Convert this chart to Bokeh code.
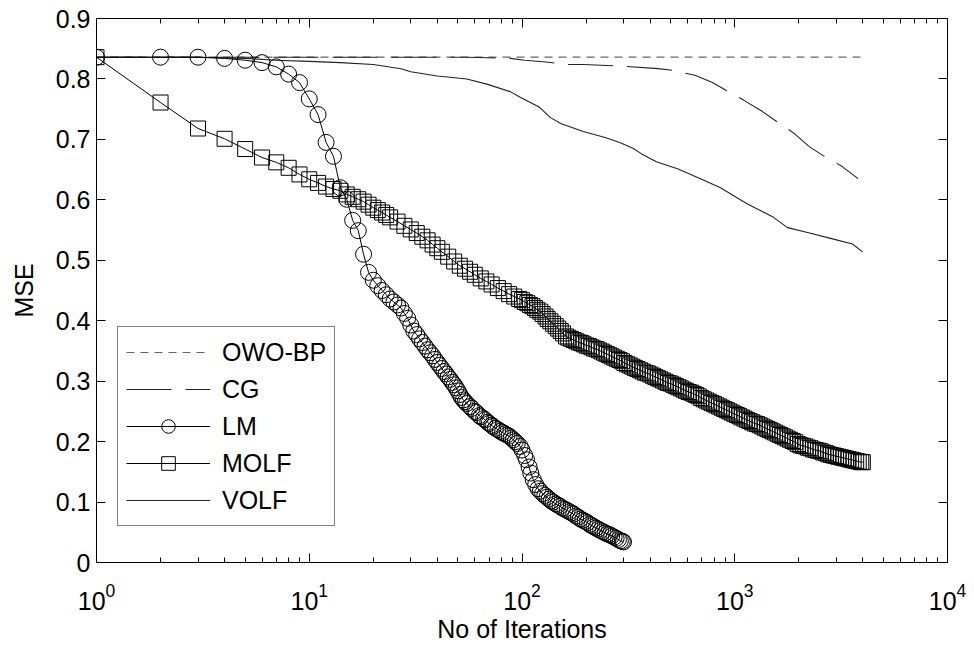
from bokeh.plotting import figure
from bokeh.models import (FixedTicker, LogAxis, LinearAxis, Legend, LegendItem,
                          ColumnDataSource)
from bokeh.embed import file_html
from bokeh.resources import INLINE

# ---------------- data ----------------
OWO_ITER = [1, 3950]
OWO_MSE = [0.836, 0.836]

CG_ITER = [1, 10, 40, 54, 70, 88, 103, 130, 162, 194, 300, 437, 515, 650, 786, 913,
           1100, 1350, 1538, 1900, 2240, 2580, 3200, 3800]
CG_MSE = [0.836, 0.836, 0.836, 0.836, 0.835, 0.834, 0.831, 0.828, 0.824, 0.824, 0.821,
          0.817, 0.814, 0.806, 0.794, 0.781, 0.765, 0.746, 0.732, 0.710, 0.688, 0.674,
          0.655, 0.635]

LM_ITER = list(range(1, 20)) + [
    20, 21, 22, 23, 24, 25, 26, 27, 28, 29,
    30, 31, 32, 33, 34, 35, 36, 37, 38, 39,
    40, 41, 42, 43, 44, 45, 46, 47, 48, 49,
    50, 51, 52, 53, 54, 55, 57, 58, 60, 61,
    63, 64, 66, 67, 69, 70, 72, 73, 75, 77,
    79, 81, 83, 85, 87, 89, 91, 93, 95, 98,
    100, 103, 105, 108, 110, 113, 116, 119, 122, 125,
    128, 131, 134, 137, 140, 144, 147, 151, 155, 159,
    163, 167, 171, 175, 179, 184, 188, 193, 198, 203,
    208, 213, 218, 223, 228, 234, 240, 246, 252, 258,
    264, 271, 277, 284, 290, 296, 300]
LM_MSE = [0.836, 0.836, 0.836, 0.834, 0.831, 0.827, 0.820, 0.808, 0.794, 0.767,
          0.741, 0.695, 0.672, 0.620, 0.601, 0.566, 0.549, 0.510, 0.480] + [
    0.467, 0.458, 0.450, 0.443, 0.436, 0.431, 0.426, 0.421, 0.412, 0.404,
    0.393, 0.383, 0.377, 0.370, 0.364, 0.358, 0.352, 0.347, 0.342, 0.336,
    0.331, 0.326, 0.321, 0.316, 0.312, 0.307, 0.303, 0.298, 0.294, 0.289,
    0.284, 0.278, 0.273, 0.269, 0.266, 0.263, 0.258, 0.255, 0.250, 0.248,
    0.243, 0.241, 0.238, 0.236, 0.232, 0.230, 0.227, 0.225, 0.222, 0.220,
    0.217, 0.215, 0.213, 0.211, 0.209, 0.206, 0.203, 0.200, 0.197, 0.192,
    0.186, 0.177, 0.170, 0.158, 0.148, 0.137, 0.129, 0.122, 0.118, 0.114,
    0.111, 0.108, 0.105, 0.102, 0.100, 0.097, 0.095, 0.093, 0.090, 0.088,
    0.086, 0.084, 0.082, 0.080, 0.077, 0.075, 0.072, 0.070, 0.068, 0.066,
    0.063, 0.061, 0.059, 0.057, 0.055, 0.053, 0.051, 0.049, 0.047, 0.046,
    0.044, 0.042, 0.040, 0.038, 0.036, 0.035, 0.034]

MOLF_ITER = list(range(1, 21)) + [
    21, 22, 23, 24, 26, 28, 30, 32, 34, 36,
    38, 40, 42, 45, 48, 51, 54, 57, 60, 64,
    68, 72, 77, 82, 87, 92, 97, 100, 103, 106,
    109, 112, 115, 118, 122, 125, 129, 132, 136, 140,
    144, 148, 152, 156, 161, 165, 170, 175, 180, 185,
    190, 195, 201, 206, 212, 218, 224, 230, 237, 243,
    250, 257, 264, 271, 279, 287, 295, 303, 312, 321,
    330, 339, 349, 359, 369, 379, 390, 401, 412, 423,
    435, 447, 460, 473, 486, 500, 514, 528, 543, 558,
    574, 590, 607, 624, 641, 659, 677, 696, 715, 735,
    756, 777, 799, 821, 844, 868, 892, 917, 942, 968,
    995, 1023, 1051, 1080, 1111, 1142, 1174, 1207, 1240, 1275,
    1310, 1347, 1384, 1423, 1462, 1503, 1545, 1588, 1632, 1677,
    1724, 1772, 1822, 1873, 1925, 1979, 2034, 2091, 2149, 2209,
    2270, 2333, 2398, 2465, 2534, 2605, 2677, 2751, 2828, 2907,
    2988, 3071, 3157, 3245, 3335, 3428, 3523, 3621, 3722, 3826,
    3932, 4000]
MOLF_MSE = [0.836, 0.761, 0.718, 0.701, 0.684, 0.670, 0.662, 0.653, 0.642, 0.634,
            0.628, 0.622, 0.618, 0.615, 0.609, 0.605, 0.601, 0.597, 0.592, 0.587] + [
    0.583, 0.579, 0.575, 0.571, 0.564, 0.557, 0.551, 0.545, 0.539, 0.533,
    0.526, 0.520, 0.514, 0.506, 0.498, 0.491, 0.486, 0.481, 0.476, 0.470,
    0.465, 0.460, 0.454, 0.449, 0.444, 0.440, 0.436, 0.434, 0.431, 0.429,
    0.426, 0.424, 0.421, 0.418, 0.415, 0.411, 0.407, 0.403, 0.399, 0.395,
    0.391, 0.387, 0.383, 0.379, 0.374, 0.372, 0.370, 0.368, 0.366, 0.364,
    0.363, 0.361, 0.359, 0.358, 0.356, 0.354, 0.353, 0.351, 0.349, 0.347,
    0.345, 0.343, 0.341, 0.339, 0.337, 0.335, 0.333, 0.330, 0.328, 0.326,
    0.324, 0.322, 0.320, 0.318, 0.316, 0.314, 0.313, 0.311, 0.309, 0.307,
    0.305, 0.303, 0.301, 0.299, 0.297, 0.296, 0.294, 0.292, 0.290, 0.288,
    0.286, 0.284, 0.282, 0.281, 0.279, 0.277, 0.275, 0.272, 0.270, 0.268,
    0.266, 0.264, 0.262, 0.260, 0.258, 0.256, 0.254, 0.252, 0.250, 0.248,
    0.246, 0.244, 0.242, 0.240, 0.238, 0.236, 0.234, 0.232, 0.230, 0.229,
    0.227, 0.225, 0.223, 0.221, 0.219, 0.217, 0.215, 0.213, 0.211, 0.209,
    0.207, 0.205, 0.203, 0.201, 0.199, 0.196, 0.194, 0.193, 0.192, 0.190,
    0.189, 0.187, 0.186, 0.185, 0.184, 0.182, 0.181, 0.179, 0.178, 0.177,
    0.176, 0.175, 0.174, 0.173, 0.172, 0.171, 0.170, 0.169, 0.168, 0.167,
    0.166, 0.166]

VOLF_ITER = [1, 3, 5, 7, 10, 14, 20, 27, 30, 40, 55, 69, 88, 99, 121, 136, 153, 194, 246,
             288, 334, 365, 428, 542, 690, 857, 1062, 1148, 1522, 1770, 2198, 2912, 3575,
             3990]
VOLF_MSE = [0.836, 0.836, 0.834, 0.831, 0.829, 0.827, 0.824, 0.817, 0.812, 0.805, 0.800,
            0.791, 0.779, 0.769, 0.753, 0.736, 0.726, 0.713, 0.703, 0.695, 0.685, 0.676,
            0.663, 0.651, 0.635, 0.620, 0.600, 0.593, 0.571, 0.554, 0.546, 0.535, 0.527,
            0.514]

X_TICKS = [1, 10, 100, 1000, 10000]
X_MINOR = [m * d for d in [1, 10, 100, 1000] for m in range(2, 10)]
Y_TICKS = [0.0, 0.1, 0.2, 0.3, 0.4, 0.5, 0.6, 0.7, 0.8, 0.9]
Y_LABELS = ["0", "0.1", "0.2", "0.3", "0.4", "0.5", "0.6", "0.7", "0.8", "0.9"]

LABELS = ["OWO-BP", "CG", "LM", "MOLF", "VOLF"]

FONT = "Liberation Sans"
TICK_FS = "25px"

# ---------------- figure ----------------
p = figure(x_axis_type="log", x_range=(1, 10000), y_range=(0, 0.9),
           frame_width=851, frame_height=544,
           min_border_left=96, min_border_top=18, min_border_right=22,
           min_border_bottom=80,
           output_backend="svg", toolbar_location=None,
           background_fill_color="white", border_fill_color="white")
p.xgrid.visible = False
p.ygrid.visible = False
p.outline_line_color = "black"
p.outline_line_width = 1

xt = FixedTicker(ticks=X_TICKS, minor_ticks=X_MINOR)
yt = FixedTicker(ticks=Y_TICKS, minor_ticks=[])


def style_axis(ax):
    ax.axis_line_color = "black"
    ax.major_tick_line_color = "black"
    ax.minor_tick_line_color = "black"
    ax.major_tick_in = 9
    ax.major_tick_out = 0
    ax.minor_tick_in = 5
    ax.minor_tick_out = 0
    ax.major_label_text_font = FONT
    ax.major_label_text_color = "black"
    ax.major_label_text_font_size = TICK_FS
    ax.axis_label_text_font = FONT
    ax.axis_label_text_font_style = "normal"
    ax.axis_label_text_color = "black"
    ax.axis_label_text_font_size = TICK_FS


xa = p.xaxis[0]
xa.ticker = xt
style_axis(xa)
xa.axis_label = "No of Iterations"
xa.major_label_standoff = 20
xa.axis_label_standoff = 2

ya = p.yaxis[0]
ya.ticker = yt
style_axis(ya)
ya.major_label_overrides = {v: s for v, s in zip(Y_TICKS, Y_LABELS)}
ya.axis_label = "MSE"
ya.major_label_standoff = 6
ya.axis_label_standoff = 15

# mirrored tick marks on the top and right edges (no labels)
top = LogAxis(ticker=FixedTicker(ticks=X_TICKS, minor_ticks=X_MINOR))
style_axis(top)
top.major_label_text_alpha = 0
top.major_label_text_font_size = "1px"
top.major_label_standoff = 0
p.add_layout(top, "above")

right = LinearAxis(ticker=FixedTicker(ticks=Y_TICKS, minor_ticks=[]))
style_axis(right)
right.major_label_text_alpha = 0
right.major_label_text_font_size = "1px"
right.major_label_standoff = 0
p.add_layout(right, "right")

# ---------------- series ----------------
r_owo = p.line(OWO_ITER, OWO_MSE, line_color="#666666", line_width=1.2, line_dash="8 6")
r_cg = p.line(CG_ITER, CG_MSE, line_color="#222222", line_width=1.1, line_dash="45 14")
r_volf = p.line(VOLF_ITER, VOLF_MSE, line_color="#222222", line_width=1.1)

molf_src = ColumnDataSource(dict(x=MOLF_ITER, y=MOLF_MSE))
r_molf_l = p.line("x", "y", source=molf_src, line_color="black", line_width=1)
r_molf_m = p.scatter("x", "y", source=molf_src, marker="square", size=15,
                     fill_color=None, line_color="black", line_width=1)

lm_src = ColumnDataSource(dict(x=LM_ITER, y=LM_MSE))
r_lm_l = p.line("x", "y", source=lm_src, line_color="black", line_width=1)
r_lm_m = p.scatter("x", "y", source=lm_src, marker="circle", size=16,
                   fill_color=None, line_color="black", line_width=1)

legend = Legend(items=[
    LegendItem(label=LABELS[0], renderers=[r_owo]),
    LegendItem(label=LABELS[1], renderers=[r_cg]),
    LegendItem(label=LABELS[2], renderers=[r_lm_l, r_lm_m]),
    LegendItem(label=LABELS[3], renderers=[r_molf_l, r_molf_m]),
    LegendItem(label=LABELS[4], renderers=[r_volf]),
], location=(21, 36))
legend.label_text_font = FONT
legend.label_text_font_size = "25px"
legend.label_text_color = "black"
legend.glyph_width = 84
legend.glyph_height = 34
legend.label_height = 34
legend.spacing = 3
legend.padding = 8
legend.margin = 0
legend.label_standoff = 12
legend.border_line_color = "black"
legend.border_line_width = 1
legend.background_fill_color = "white"
legend.background_fill_alpha = 1
p.add_layout(legend, "center")

open("out.html", "w").write(file_html(p, INLINE))
